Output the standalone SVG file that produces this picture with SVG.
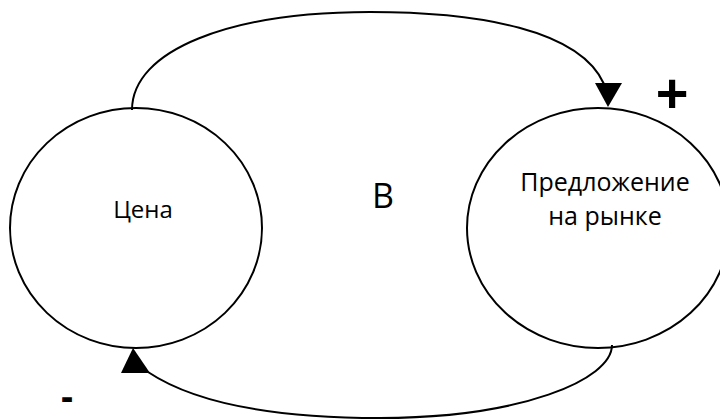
<svg xmlns="http://www.w3.org/2000/svg" width="720" height="419" viewBox="0 0 720 419">
<style>
.node{fill:none;stroke:#000;stroke-width:2}
.edge{fill:none;stroke:#000;stroke-width:2}
.lbl{font-family:"Open Sans","Liberation Sans",Arial,sans-serif;font-size:25px;fill:#000;text-anchor:middle}
.big{font-family:"Open Sans","Liberation Sans",Arial,sans-serif;font-size:34px;fill:#000;text-anchor:middle}
.sign{font-family:"Liberation Sans",Arial,sans-serif;font-weight:bold;fill:#000;text-anchor:middle}
</style>
<rect width="720" height="419" fill="#fff"/>
<g id="edges">
<path class="edge" d="M132,110 C132,50 230,12 370,12 C480,12 580,30 604,84"/>
<polygon points="595,83 622,83 608,107" fill="#000"/>
<path class="edge" d="M612,345 C612,380 520,418 380,418 C260,418 190,400 148,372"/>
<polygon points="121,373 150,373 133,348" fill="#000"/>
</g>
<g id="price">
<ellipse class="node" cx="136" cy="228" rx="126" ry="120"/>
<text class="lbl" x="143" y="218" style="font-size:24px">Цена</text>
</g>
<g id="supply">
<ellipse class="node" cx="598" cy="228" rx="131" ry="120"/>
<text class="lbl" x="605" y="191">Предложение</text>
<text class="lbl" x="605" y="225">на рынке</text>
</g>
<text class="big" x="383" y="208">В</text>
<text class="sign" x="672" y="112" font-size="56">+</text>
<text class="sign" x="67" y="410" font-size="38">-</text>
</svg>
